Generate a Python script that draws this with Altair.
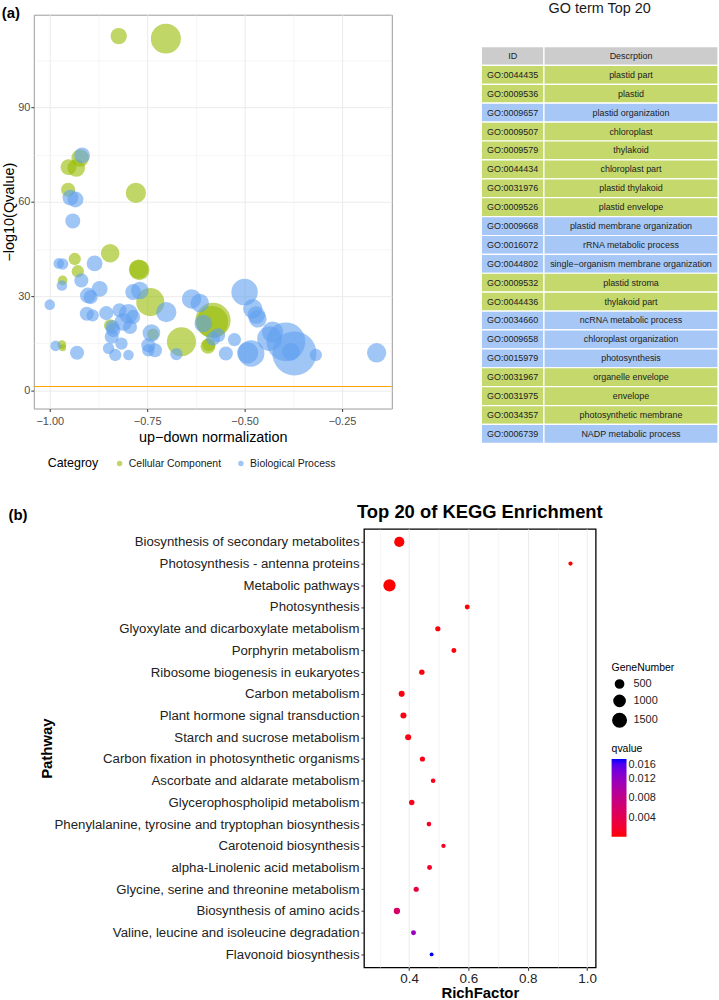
import altair as alt
import pandas as pd

FONT = "Liberation Sans"

# ---------------- (a) GO bubble chart data ----------------
cat_names = ["Cellular Component", "Biological Process"]

cc_x = [-0.823, -0.702, -0.922, -0.952, -0.932, -0.953, -0.779, -0.936, -0.845, -0.928,
        -0.967, -0.770, -0.772, -0.742, -0.845, -0.735, -0.662, -0.969, -0.967, -0.581,
        -0.583, -0.594, -0.592]
cc_y = [112.6, 111.8, 73.9, 71.0, 70.7, 63.8, 62.8, 41.8, 43.6, 37.9,
        35.0, 38.3, 38.6, 28.1, 20.7, 17.9, 15.5, 14.6, 13.6, 22.3,
        21.8, 14.1, 14.6]
cc_n = [86, 289, 100, 81, 100, 64, 132, 49, 110, 49,
        30, 132, 121, 256, 49, 42, 272, 25, 16, 400,
        324, 72, 56]

bp_x = [-0.917, -0.947, -0.934, -0.941, -0.977, -0.967, -0.885, -0.919, -0.969, -1.000,
        -0.902, -0.895, -0.872, -0.905, -0.890, -0.855, -0.786, -0.769, -0.701, -0.636,
        -0.821, -0.798, -0.811, -0.794, -0.837, -0.786, -0.839, -0.841, -0.816, -0.849,
        -0.832, -0.798, -0.739, -0.747, -0.730, -0.747, -0.675, -0.985, -0.930, -0.500,
        -0.479, -0.466, -0.470, -0.615, -0.606, -0.568, -0.581, -0.526, -0.548, -0.483,
        -0.492, -0.436, -0.428, -0.394, -0.372, -0.381, -0.317, -0.161]
bp_y = [74.7, 61.3, 60.7, 53.9, 40.4, 40.2, 40.4, 35.0, 33.4, 27.3,
        30.2, 29.7, 32.3, 24.4, 23.9, 24.6, 31.3, 31.8, 24.9, 29.1,
        25.5, 24.4, 21.8, 20.2, 19.2, 23.4, 20.2, 17.1, 14.9, 13.4,
        11.3, 11.3, 18.3, 14.4, 12.8, 12.8, 11.6, 14.2, 12.0, 31.3,
        26.0, 22.8, 24.0, 27.8, 21.3, 17.6, 16.5, 16.2, 11.8, 11.8,
        12.0, 16.5, 18.6, 15.5, 11.8, 12.3, 11.3, 12.0]
bp_n = [81, 81, 81, 72, 36, 42, 81, 64, 36, 36,
        81, 64, 81, 64, 49, 64, 81, 100, 132, 121,
        64, 121, 100, 64, 64, 64, 64, 64, 49, 42,
        49, 36, 100, 64, 64, 49, 49, 36, 64, 225,
        121, 100, 100, 110, 100, 64, 64, 56, 64, 225,
        144, 196, 144, 484, 625, 100, 49, 121]

qvalue_cutoff = [1.3]

# ---------------- GO term table data ----------------
go_ids = ["GO:0044435", "GO:0009536", "GO:0009657", "GO:0009507", "GO:0009579",
          "GO:0044434", "GO:0031976", "GO:0009526", "GO:0009668", "GO:0016072",
          "GO:0044802", "GO:0009532", "GO:0044436", "GO:0034660", "GO:0009658",
          "GO:0015979", "GO:0031967", "GO:0031975", "GO:0034357", "GO:0006739"]
go_desc = ["plastid part", "plastid", "plastid organization", "chloroplast", "thylakoid",
           "chloroplast part", "plastid thylakoid", "plastid envelope",
           "plastid membrane organization", "rRNA metabolic process",
           "single−organism membrane organization", "plastid stroma", "thylakoid part",
           "ncRNA metabolic process", "chloroplast organization", "photosynthesis",
           "organelle envelope", "envelope", "photosynthetic membrane", "NADP metabolic process"]
go_cat = ["CC", "CC", "BP", "CC", "CC", "CC", "CC", "CC", "BP", "BP",
          "BP", "CC", "CC", "BP", "BP", "BP", "CC", "CC", "CC", "BP"]
table_header = ["ID", "Descrption"]

# ---------------- (b) KEGG data ----------------
pathways = ["Biosynthesis of secondary metabolites", "Photosynthesis - antenna proteins",
            "Metabolic pathways", "Photosynthesis", "Glyoxylate and dicarboxylate metabolism",
            "Porphyrin metabolism", "Ribosome biogenesis in eukaryotes", "Carbon metabolism",
            "Plant hormone signal transduction", "Starch and sucrose metabolism",
            "Carbon fixation in photosynthetic organisms", "Ascorbate and aldarate metabolism",
            "Glycerophospholipid metabolism", "Phenylalanine, tyrosine and tryptophan biosynthesis",
            "Carotenoid biosynthesis", "alpha-Linolenic acid metabolism",
            "Glycine, serine and threonine metabolism", "Biosynthesis of amino acids",
            "Valine, leucine and isoleucine degradation", "Flavonoid biosynthesis"]
rich_factor = [0.367, 0.944, 0.334, 0.596, 0.497, 0.551, 0.443, 0.375, 0.381, 0.397,
               0.445, 0.481, 0.409, 0.467, 0.516, 0.469, 0.424, 0.359, 0.415, 0.476]
gene_number = [826, 66, 1225, 127, 149, 127, 172, 234, 234, 234,
               149, 100, 172, 100, 82, 127, 149, 264, 127, 47]
q_value = [0.0001, 0.0001, 0.0001, 0.0002, 0.0003, 0.0004, 0.0005, 0.0005, 0.0006, 0.0007,
           0.0008, 0.0009, 0.0010, 0.0012, 0.0014, 0.0016, 0.0030, 0.0056, 0.0115, 0.0160]

# ---------------- styles ----------------
GREEN = "#96bb00"
BLUE = "#61a0f0"
ROW_GREEN = "#c4d86c"
ROW_BLUE = "#a7c8f6"
ROW_HEAD = "#cccccc"
GRID = "#ebebeb"


def cond(test, a, b):
    return {"condition": {"test": test, "value": a}, "value": b}


# ---------------- (a) bubble chart ----------------
go_df = pd.concat([
    pd.DataFrame({"norm": cc_x, "qlog": cc_y, "count": cc_n, "cat": cat_names[0]}),
    pd.DataFrame({"norm": bp_x, "qlog": bp_y, "count": bp_n, "cat": cat_names[1]}),
], ignore_index=True)

x_major_test = "round(datum.value*100) % 25 == 0"
y_major_test = "datum.value % 30 == 0"

x_axis_a = alt.Axis(values=[-1.0, -0.875, -0.75, -0.625, -0.5, -0.375, -0.25, -0.125],
                    format=".2f", labelExpr=f"({x_major_test}) ? datum.label : ''",
                    tickOpacity=cond(x_major_test, 1, 0), gridWidth=cond(x_major_test, 1, 0.5),
                    gridColor=GRID, domain=False, tickColor="#333333", tickSize=3,
                    labelFontSize=11, labelColor="#4d4d4d", labelPadding=4,
                    titleFontSize=14.5, titleFontWeight="normal", titleColor="black", titlePadding=4)
y_axis_a = alt.Axis(values=[0, 15, 30, 45, 60, 75, 90, 105],
                    labelExpr=f"({y_major_test}) ? datum.label : ''",
                    tickOpacity=cond(y_major_test, 1, 0), gridWidth=cond(y_major_test, 1, 0.5),
                    gridColor=GRID, domain=False, tickColor="#333333", tickSize=3,
                    labelFontSize=11, labelColor="#4d4d4d", labelPadding=1,
                    titleFontSize=14.5, titleFontWeight="normal", titleColor="black", titlePadding=1)

x_scale_a = alt.Scale(domain=[-1.041, -0.122], nice=False, zero=False)
y_scale_a = alt.Scale(domain=[-5.7, 119.4], nice=False, zero=False)

bubbles = alt.Chart(go_df).mark_circle(opacity=0.6).encode(
    x=alt.X("norm:Q", title="up−down normalization", scale=x_scale_a, axis=x_axis_a),
    y=alt.Y("qlog:Q", title="−log10(Qvalue)", scale=y_scale_a, axis=y_axis_a),
    size=alt.Size("count:Q", scale=alt.Scale(domain=[0, 625], range=[0, 1963]), legend=None),
    color=alt.Color("cat:N", scale=alt.Scale(domain=cat_names, range=[GREEN, BLUE]),
                    legend=alt.Legend(title="Categroy", orient="none", direction="horizontal",
                                      titleOrient="left", legendX=14, legendY=446,
                                      titleFontSize=12.5, titleFontWeight="normal", titleColor="black",
                                      labelFontSize=10.5, labelColor="#1a1a1a", symbolSize=30,
                                      symbolOpacity=0.6, titlePadding=16, columnPadding=14,
                                      labelOffset=4)),
)

cutoff_rule = alt.Chart(pd.DataFrame({"qlog": qvalue_cutoff})).mark_rule(
    color="#FFA500", strokeWidth=1.2).encode(
    y=alt.Y("qlog:Q", title="−log10(Qvalue)", scale=y_scale_a))

go_plot = alt.layer(bubbles, cutoff_rule).properties(
    width=360, height=396,
    title=alt.TitleParams("(a)", anchor="start", fontSize=15, fontWeight="bold", color="black",
                          offset=-6),
    view=alt.ViewBackground(stroke="#9a9a9a", strokeWidth=1),
)

# ---------------- GO term table ----------------
col_edges = [0, 63, 238]
recs = []
for j, h in enumerate(table_header):
    recs.append({"row": 0, "x0": col_edges[j], "x1": col_edges[j + 1],
                 "xc": (col_edges[j] + col_edges[j + 1]) / 2, "label": h, "kind": "header"})
for i, (gid, desc, cat) in enumerate(zip(go_ids, go_desc, go_cat)):
    for j, val in enumerate([gid, desc]):
        recs.append({"row": i + 1, "x0": col_edges[j], "x1": col_edges[j + 1],
                     "xc": (col_edges[j] + col_edges[j + 1]) / 2, "label": val, "kind": cat})
tbl = pd.DataFrame(recs)

tx = alt.Scale(domain=[0, 238], nice=False, zero=False)
ty = alt.Scale(type="band", paddingInner=0, paddingOuter=0.842, align=1)

table_rect = alt.Chart(tbl).mark_rect(stroke="white", strokeWidth=1.2).encode(
    x=alt.X("x0:Q", scale=tx, axis=None),
    x2="x1:Q",
    y=alt.Y("row:O", scale=ty, axis=None),
    color=alt.Color("kind:N", scale=alt.Scale(domain=["header", "CC", "BP"],
                                              range=[ROW_HEAD, ROW_GREEN, ROW_BLUE]), legend=None),
)
table_text = alt.Chart(tbl).mark_text(fontSize=9, color="#222222").encode(
    x=alt.X("xc:Q", scale=tx, axis=None),
    y=alt.Y("row:O", scale=ty, axis=None),
    text="label:N",
)
table = alt.layer(table_rect, table_text).properties(
    width=238, height=431,
    title=alt.TitleParams("GO term Top 20", fontSize=14.5, fontWeight="normal", color="#1a1a1a",
                          anchor="middle", offset=-2),
)

# ---------------- (b) KEGG chart ----------------
kegg_df = pd.DataFrame({"pathway": pathways, "rich": rich_factor, "genes": gene_number, "q": q_value})
xk_test = "round(datum.value*10) % 2 == 0"

kegg = alt.Chart(kegg_df).mark_circle(opacity=1).encode(
    x=alt.X("rich:Q", title="RichFactor",
            scale=alt.Scale(domain=[0.248, 1.029], nice=False, zero=False),
            axis=alt.Axis(values=[0.3, 0.4, 0.5, 0.6, 0.7, 0.8, 0.9, 1.0], format=".1f",
                          labelExpr=f"({xk_test}) ? datum.label : ''",
                          tickOpacity=cond(xk_test, 1, 0), gridWidth=cond(xk_test, 1, 0.5),
                          gridColor=GRID, domain=False, tickColor="#333333", tickSize=3,
                          labelFontSize=13.5, labelColor="#222222", labelPadding=1,
                          titleFontSize=15, titleFontWeight="bold", titleColor="black",
                          titlePadding=1)),
    y=alt.Y("pathway:N", sort=pathways, title="Pathway",
            scale=alt.Scale(type="point", padding=0.6),
            axis=alt.Axis(gridColor=GRID, domain=False, tickColor="#333333", tickSize=3,
                          labelFontSize=13.3, labelColor="#222222", labelPadding=2,
                          labelLimit=400, titleFontSize=15, titleFontWeight="bold",
                          titleColor="black", titleX=-311, titleY=220.5, titleAngle=270,
                          titleAlign="center", titleBaseline="bottom")),
    size=alt.Size("genes:Q", title="GeneNumber",
                  scale=alt.Scale(domain=[0, 1600], range=[10, 195]),
                  legend=alt.Legend(values=[500, 1000, 1500], format="d", orient="none",
                                    legendX=249, legendY=135, symbolFillColor="black",
                                    symbolStrokeColor="black", symbolOpacity=1, labelOffset=6,
                                    rowPadding=0,
                                    titleFontSize=10.5, titleFontWeight="normal",
                                    titleColor="black", labelFontSize=11, labelColor="#222222")),
    color=alt.Color("q:Q", title="qvalue",
                    scale=alt.Scale(domain=[0.0001, 0.016], range=["#FF0000", "#0000FF"],
                                    interpolate="lab"),
                    legend=alt.Legend(values=[0.004, 0.008, 0.012, 0.016], format=".3f",
                                      orient="none", direction="vertical", legendX=249, legendY=216,
                                      gradientLength=78, gradientThickness=15,
                                      titleFontSize=10.5, titleFontWeight="normal",
                                      titleColor="black", labelFontSize=11, labelColor="#222222")),
).properties(
    width=233, height=441,
    title=alt.TitleParams("Top 20 of KEGG Enrichment", fontSize=18.5, fontWeight="bold",
                          color="black", anchor="middle", offset=7),
    view=alt.ViewBackground(stroke="black", strokeWidth=1.3),
)

tag_b = alt.Chart(pd.DataFrame({"tag": ["(b)"]})).mark_point(opacity=0, size=1).encode(
    x=alt.value(0), y=alt.value(0)
).properties(
    width=1, height=1,
    title=alt.TitleParams("(b)", anchor="start", fontSize=15, fontWeight="bold", color="black",
                          dx=-25, offset=5),
)

top_row = alt.hconcat(go_plot, table, spacing=87).resolve_scale(
    color="independent", size="independent")
bottom_row = alt.hconcat(tag_b, kegg, spacing=4).resolve_scale(
    color="independent", size="independent")

chart = alt.vconcat(top_row, bottom_row, spacing=31).resolve_scale(
    color="independent", size="independent"
).properties(
    padding={"left": 1, "top": -2, "right": 0, "bottom": 0}
).configure(font=FONT).configure_view(strokeWidth=0)

chart.save("out.html", embed_options={"renderer": "svg", "actions": False})
